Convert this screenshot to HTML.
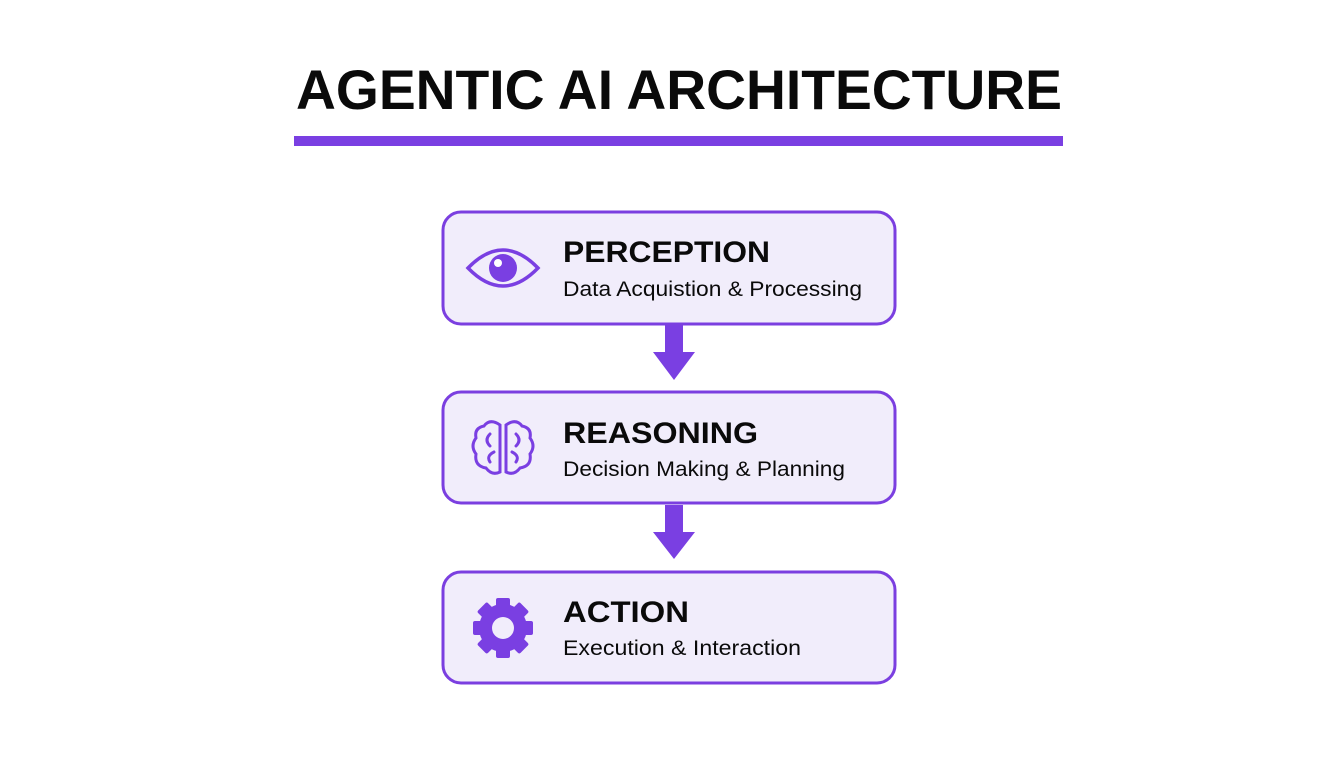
<!DOCTYPE html>
<html><head><meta charset="utf-8"><style>html,body{margin:0;padding:0;background:#fff}svg{display:block}</style></head>
<body>
<svg width="1344" height="768" viewBox="0 0 1344 768" xmlns="http://www.w3.org/2000/svg" font-family="Liberation Sans, sans-serif">
<rect width="1344" height="768" fill="#fff"/>
<text x="296" y="109" font-size="56" font-weight="bold" fill="#0a0a0a" textLength="766" lengthAdjust="spacingAndGlyphs">AGENTIC AI ARCHITECTURE</text>
<rect x="294" y="136" width="769" height="10" fill="#7a3fe2"/>
<g stroke="#7b3fe0" stroke-width="3" fill="#f1edfb">
<rect x="443" y="212" width="452" height="112" rx="18"/>
<rect x="443" y="392" width="452" height="111" rx="18"/>
<rect x="443" y="572" width="452" height="111" rx="18"/>
</g>
<g fill="#7a3fe2">
<polygon points="665,325 683,325 683,352 695,352 674,380 653,352 665,352"/>
<polygon points="665,505 683,505 683,532 695,532 674,559 653,532 665,532"/>
</g>
<path d="M468,268 Q503,232 538,268 Q503,304 468,268 Z" fill="none" stroke="#7a3fe2" stroke-width="3.5"/>
<circle cx="503" cy="268" r="14" fill="#7a3fe2"/>
<circle cx="498" cy="263" r="4" fill="#fff"/>
<g fill="none" stroke="#7a3fe2" stroke-width="3" stroke-linecap="round">
<path d="M500,425 Q490,418 484,426 Q474,428 476,438 Q470,446 476,454 Q474,466 486,468 Q492,476 500,472 Z"/>
<path d="M506,425 Q516,418 522,426 Q532,428 530,438 Q536,446 530,454 Q532,466 520,468 Q514,476 506,472 Z"/>
<path d="M490,434 Q484,440 490,446 M494,452 Q486,456 490,462 M516,434 Q522,440 516,446 M512,452 Q520,456 516,462"/>
</g>
<g fill="#7a3fe2">
<circle cx="503" cy="628" r="24"/>
<rect x="496" y="598" width="14" height="60" rx="2"/>
<rect x="496" y="598" width="14" height="60" rx="2" transform="rotate(45 503 628)"/>
<rect x="496" y="598" width="14" height="60" rx="2" transform="rotate(90 503 628)"/>
<rect x="496" y="598" width="14" height="60" rx="2" transform="rotate(135 503 628)"/>
</g>
<circle cx="503" cy="628" r="11" fill="#f1edfb"/>
<g fill="#0a0a0a">
<text x="563" y="262" font-size="30" font-weight="bold" textLength="207" lengthAdjust="spacingAndGlyphs">PERCEPTION</text>
<text x="563" y="296" font-size="21" textLength="299" lengthAdjust="spacingAndGlyphs">Data Acquistion &amp; Processing</text>
<text x="563" y="443" font-size="30" font-weight="bold" textLength="195" lengthAdjust="spacingAndGlyphs">REASONING</text>
<text x="563" y="476" font-size="21" textLength="282" lengthAdjust="spacingAndGlyphs">Decision Making &amp; Planning</text>
<text x="563" y="622" font-size="30" font-weight="bold" textLength="126" lengthAdjust="spacingAndGlyphs">ACTION</text>
<text x="563" y="655" font-size="21" textLength="238" lengthAdjust="spacingAndGlyphs">Execution &amp; Interaction</text>
</g>
</svg>
</body></html>
